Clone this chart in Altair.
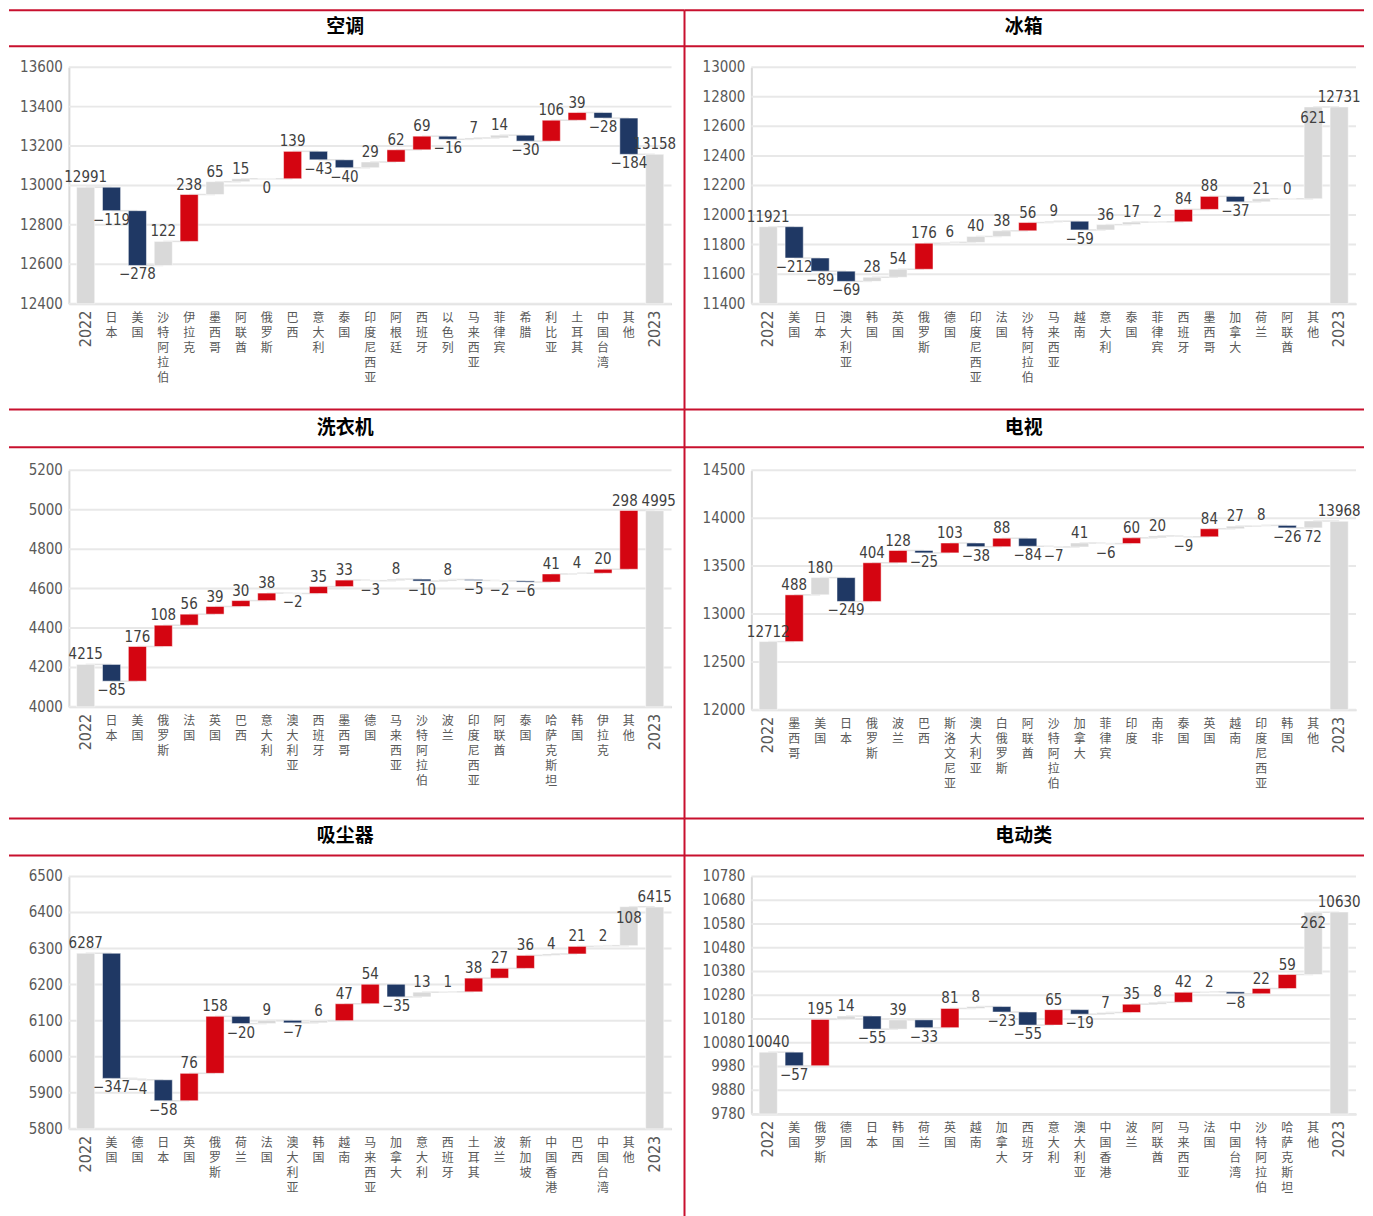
import altair as alt
import pandas as pd

# ---------------- data ----------------
AC_TITLE = "空调"
AC_CATS = ["2022", "日本", "美国", "沙特阿拉伯", "伊拉克", "墨西哥", "阿联酋", "俄罗斯", "巴西", "意大利", "泰国",
           "印度尼西亚", "阿根廷", "西班牙", "以色列", "马来西亚", "菲律宾", "希腊", "利比亚", "土耳其", "中国台湾", "其他", "2023"]
AC_VALS = [12991, -119, -278, 122, 238, 65, 15, 0, 139, -43, -40, 29, 62, 69, -16, 7, 14, -30, 106, 39, -28, -184, 13158]
AC_KINDS = ["t", "d", "d", "g", "u", "g", "g", "g", "u", "d", "d", "g", "u", "u", "d", "g", "g", "d", "u", "u", "d", "d", "t"]

FR_TITLE = "冰箱"
FR_CATS = ["2022", "美国", "日本", "澳大利亚", "韩国", "英国", "俄罗斯", "德国", "印度尼西亚", "法国", "沙特阿拉伯",
           "马来西亚", "越南", "意大利", "泰国", "菲律宾", "西班牙", "墨西哥", "加拿大", "荷兰", "阿联酋", "其他", "2023"]
FR_VALS = [11921, -212, -89, -69, 28, 54, 176, 6, 40, 38, 56, 9, -59, 36, 17, 2, 84, 88, -37, 21, 0, 621, 12731]
FR_KINDS = ["t", "d", "d", "d", "g", "g", "u", "g", "g", "g", "u", "g", "d", "g", "g", "g", "u", "u", "d", "g", "g", "g", "t"]

WM_TITLE = "洗衣机"
WM_CATS = ["2022", "日本", "美国", "俄罗斯", "法国", "英国", "巴西", "意大利", "澳大利亚", "西班牙", "墨西哥", "德国",
           "马来西亚", "沙特阿拉伯", "波兰", "印度尼西亚", "阿联酋", "泰国", "哈萨克斯坦", "韩国", "伊拉克", "其他", "2023"]
WM_VALS = [4215, -85, 176, 108, 56, 39, 30, 38, -2, 35, 33, -3, 8, -10, 8, -5, -2, -6, 41, 4, 20, 298, 4995]
WM_KINDS = ["t", "d", "u", "u", "u", "u", "u", "u", "g", "u", "u", "g", "g", "d", "g", "d", "g", "d", "u", "g", "u", "u", "t"]

TV_TITLE = "电视"
TV_CATS = ["2022", "墨西哥", "美国", "日本", "俄罗斯", "波兰", "巴西", "斯洛文尼亚", "澳大利亚", "白俄罗斯", "阿联酋",
           "沙特阿拉伯", "加拿大", "菲律宾", "印度", "南非", "泰国", "英国", "越南", "印度尼西亚", "韩国", "其他", "2023"]
TV_VALS = [12712, 488, 180, -249, 404, 128, -25, 103, -38, 88, -84, -7, 41, -6, 60, 20, -9, 84, 27, 8, -26, 72, 13968]
TV_KINDS = ["t", "u", "g", "d", "u", "u", "d", "u", "d", "u", "d", "g", "g", "g", "u", "g", "g", "u", "g", "g", "d", "g", "t"]

VC_TITLE = "吸尘器"
VC_CATS = ["2022", "美国", "德国", "日本", "英国", "俄罗斯", "荷兰", "法国", "澳大利亚", "韩国", "越南", "马来西亚",
           "加拿大", "意大利", "西班牙", "土耳其", "波兰", "新加坡", "中国香港", "巴西", "中国台湾", "其他", "2023"]
VC_VALS = [6287, -347, -4, -58, 76, 158, -20, 9, -7, 6, 47, 54, -35, 13, 1, 38, 27, 36, 4, 21, 2, 108, 6415]
VC_KINDS = ["t", "d", "g", "d", "u", "u", "d", "g", "d", "g", "u", "u", "d", "g", "g", "u", "u", "u", "g", "u", "g", "g", "t"]

PT_TITLE = "电动类"
PT_CATS = ["2022", "美国", "俄罗斯", "德国", "日本", "韩国", "荷兰", "英国", "越南", "加拿大", "西班牙", "意大利",
           "澳大利亚", "中国香港", "波兰", "阿联酋", "马来西亚", "法国", "中国台湾", "沙特阿拉伯", "哈萨克斯坦", "其他", "2023"]
PT_VALS = [10040, -57, 195, 14, -55, 39, -33, 81, 8, -23, -55, 65, -19, 7, 35, 8, 42, 2, -8, 22, 59, 262, 10630]
PT_KINDS = ["t", "d", "u", "g", "d", "g", "d", "u", "g", "d", "d", "u", "d", "g", "u", "g", "u", "g", "d", "u", "u", "g", "t"]

# y axis tick values
AC_TICKS = [12400, 12600, 12800, 13000, 13200, 13400, 13600]
FR_TICKS = [11400, 11600, 11800, 12000, 12200, 12400, 12600, 12800, 13000]
WM_TICKS = [4000, 4200, 4400, 4600, 4800, 5000, 5200]
TV_TICKS = [12000, 12500, 13000, 13500, 14000, 14500]
VC_TICKS = [5800, 5900, 6000, 6100, 6200, 6300, 6400, 6500]
PT_TICKS = [9780, 9880, 9980, 10080, 10180, 10280, 10380, 10480, 10580, 10680, 10780]

# label placement exceptions
LABEL_POS = {
    ("空调", "俄罗斯"): "below",
    ("冰箱", "其他"): "inside",
    ("吸尘器", "其他"): "inside",
    ("电动类", "其他"): "inside",
    ("电视", "其他"): "below",
    ("洗衣机", "其他"): "aboveL",
    ("洗衣机", "2023"): "aboveR",
}

# ---------------- style ----------------
GREY = "#d9d9d9"
NAVY = "#1f3864"
RED = "#d40511"
LINE_RED = "#c8102e"
NUM_FONT = "Liberation Sans Narrow, DejaVu Sans Condensed, sans-serif"
CJK_FONT = "Noto Sans CJK SC"
MAX_CHARS = 5


def panel(title, cats, vals, kinds, ticks, w, h, side, rowgeo):
    ymin, ymax = ticks[0], ticks[-1]
    n = len(cats)
    recs, conn, chars = [], [], []
    running = vals[0]
    levels = []
    for i, (c, v, k) in enumerate(zip(cats, vals, kinds)):
        if i == 0 or i == n - 1:
            s, e = ymin, v
            lvl = v
            lab = str(v)
            pos = "above"
        else:
            s = running
            e = running + v
            running = e
            lvl = e
            lab = ("\u2212" + str(abs(v))) if v < 0 else str(v)
            pos = "below" if v < 0 else "above"
        pos = LABEL_POS.get((title, c), pos)
        ly = min(s, e) if pos == "below" else max(s, e)
        is_year = c.isdigit()
        recs.append(dict(cat=c, s=s, e=e, kind=k, lab=lab, pos=pos, ly=ly, year=is_year))
        if not is_year:
            for j, ch in enumerate(c):
                chars.append(dict(cat=c, ch=ch, j=j))
        levels.append(lvl)
    for i in range(n - 1):
        conn.append(dict(pair=i, cat=cats[i], lvl=levels[i]))
        conn.append(dict(pair=i, cat=cats[i + 1], lvl=levels[i]))
    df = pd.DataFrame(recs)
    cdf = pd.DataFrame(conn)
    chdf = pd.DataFrame(chars)
    tdf = pd.DataFrame({"t": ticks, "tl": [str(t) for t in ticks]})

    xs = alt.Scale(domain=cats, paddingInner=0.3, paddingOuter=0.3)
    ys = alt.Scale(domain=[ymin, ymax], nice=False, zero=False)
    xaxis = alt.Axis(labels=False, ticks=False, title=None, grid=False,
                     domainColor="#d9d9d9", domainWidth=2)
    yaxis = alt.Axis(labels=False, ticks=False, title=None, grid=False,
                     domainColor="#d9d9d9", domainWidth=2)

    tk = alt.Chart(tdf)
    grid = tk.mark_rule(color="#e8e8e8", strokeWidth=2).encode(
        y=alt.Y("t:Q", scale=ys, axis=yaxis), x=alt.value(0), x2=alt.value(w))
    ylabels = tk.mark_text(align="right", baseline="middle", font=NUM_FONT, fontSize=15,
                           color="#595959").encode(
        y=alt.Y("t:Q", scale=ys), x=alt.value(-6), text="tl:N")

    base = alt.Chart(df)
    connectors = alt.Chart(cdf).mark_line(color="#e3e3e3", strokeWidth=1.5).encode(
        x=alt.X("cat:N", scale=xs, axis=xaxis),
        y=alt.Y("lvl:Q", scale=ys, axis=yaxis),
        detail="pair:N",
    )
    bars = base.mark_bar(stroke="white", strokeWidth=0.5).encode(
        x=alt.X("cat:N", scale=xs, axis=xaxis),
        y=alt.Y("s:Q", scale=ys, axis=yaxis),
        y2="e:Q",
        color=alt.Color("kind:N", scale=alt.Scale(domain=["t", "u", "d", "g"],
                                                  range=[GREY, RED, NAVY, GREY]), legend=None),
    )
    txt_kw = dict(font=NUM_FONT, fontSize=15, color="#404040")
    enc = dict(x=alt.X("cat:N", scale=xs), y=alt.Y("ly:Q", scale=ys), text="lab:N")
    above = base.transform_filter("datum.pos == 'above'").mark_text(
        baseline="bottom", dy=-2, **txt_kw).encode(**enc)
    above_l = base.transform_filter("datum.pos == 'aboveL'").mark_text(
        baseline="bottom", dy=-2, dx=-4, **txt_kw).encode(**enc)
    above_r = base.transform_filter("datum.pos == 'aboveR'").mark_text(
        baseline="bottom", dy=-2, dx=4, **txt_kw).encode(**enc)
    below = base.transform_filter("datum.pos == 'below'").mark_text(
        baseline="top", dy=2, **txt_kw).encode(**enc)
    inside = base.transform_filter("datum.pos == 'inside'").mark_text(
        baseline="top", dy=4, **txt_kw).encode(**enc)
    chb = alt.Chart(chdf)
    xl_cjk = [
        chb.transform_filter(f"datum.j == {j}").mark_text(
            baseline="top", align="center", font=CJK_FONT, fontSize=12, color="#595959").encode(
            x=alt.X("cat:N", scale=xs), y=alt.value(h + 9 + 15 * j), text="ch:N")
        for j in range(MAX_CHARS)
    ]
    xl_year = base.transform_filter("datum.year").mark_text(
        baseline="middle", align="right", angle=270, font=NUM_FONT, fontSize=16, color="#595959").encode(
        x=alt.X("cat:N", scale=xs), y=alt.value(h + 7), text="cat:N")

    # frame lines and title
    top_rel, sub_rel, title_rel, bottom_rel = rowgeo
    one = alt.Chart(pd.DataFrame({"k": [0]}))
    if side == "L":
        x_a, x_b, cx = -60, 617, 277
    else:
        x_a, x_b, cx = -67, 614, 273
    frame = [
        one.mark_rule(color=LINE_RED, strokeWidth=2).encode(
            x=alt.value(x_a), x2=alt.value(x_b), y=alt.value(top_rel)),
        one.mark_rule(color=LINE_RED, strokeWidth=2).encode(
            x=alt.value(x_a), x2=alt.value(x_b), y=alt.value(sub_rel)),
        one.mark_text(font=CJK_FONT, fontSize=19, fontWeight="bold", color="#000000",
                      baseline="middle", align="center").encode(
            x=alt.value(cx), y=alt.value(title_rel), text=alt.value(title)),
    ]
    if side == "R":
        frame.append(one.mark_rule(color=LINE_RED, strokeWidth=2).encode(
            x=alt.value(-67), y=alt.value(top_rel), y2=alt.value(bottom_rel)))

    return alt.layer(grid, ylabels, connectors, bars, above, above_l, above_r, below, inside,
                     *xl_cjk, xl_year, *frame).properties(width=w, height=h)


ROW1 = (-57, -21, -40, 343)
ROW2 = (-61, -23, -42, 349)
ROW3 = (-58, -21, -40, 345)

p1 = panel(AC_TITLE, AC_CATS, AC_VALS, AC_KINDS, AC_TICKS, 604, 237, "L", ROW1)
p2 = panel(FR_TITLE, FR_CATS, FR_VALS, FR_KINDS, FR_TICKS, 606, 237, "R", ROW1)
p3 = panel(WM_TITLE, WM_CATS, WM_VALS, WM_KINDS, WM_TICKS, 604, 237, "L", ROW2)
p4 = panel(TV_TITLE, TV_CATS, TV_VALS, TV_KINDS, TV_TICKS, 606, 240, "R", ROW2)
p5 = panel(VC_TITLE, VC_CATS, VC_VALS, VC_KINDS, VC_TICKS, 604, 253, "L", ROW3)
p6 = panel(PT_TITLE, PT_CATS, PT_VALS, PT_KINDS, PT_TICKS, 606, 238, "R", ROW3)

chart = alt.concat(p1, p2, p3, p4, p5, p6, columns=2,
                   spacing={"row": 167, "column": 80}, bounds="flush", align="each").properties(
    padding=0, background="white"
).resolve_scale(x="independent", y="independent", color="shared").configure_view(stroke=None)

chart.save("out.html", embed_options={"renderer": "svg", "actions": False})
